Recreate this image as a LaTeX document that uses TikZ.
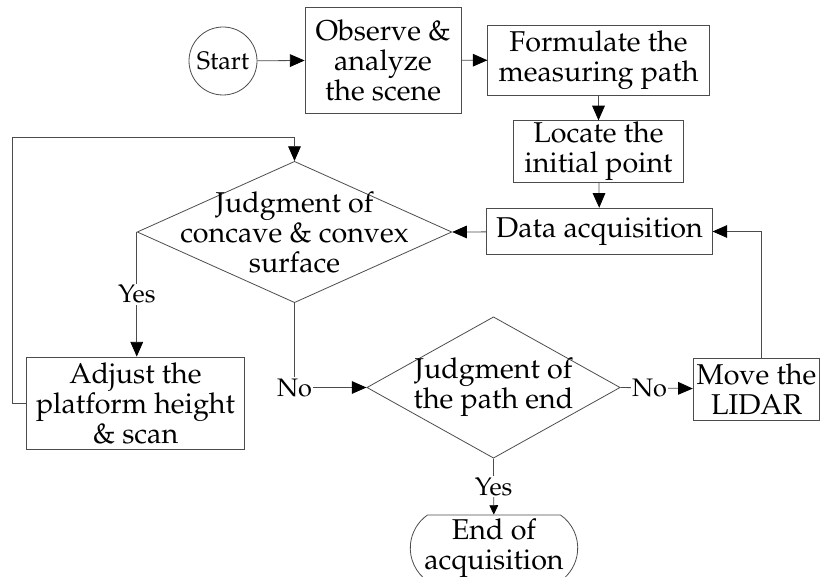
\documentclass[tikz,border=0pt]{standalone}
\usepackage[T1]{fontenc}
\usepackage{mathpazo}
\usepackage{tikz}
\usetikzlibrary{arrows.meta}
\usetikzlibrary{shapes,positioning}

\begin{document}
\begin{tikzpicture}[x=0.75pt, y=-0.75pt]
            \tikzstyle{every node} = [font=\fontsize{21.5}{22.5}\selectfont]
            \tikzstyle{small} = [font=\fontsize{19}{22}\selectfont]
            \tikzstyle{arrow} = [draw=black!70, line width=0.6pt, -{Triangle[length=11pt,width=9.5pt,color=black]}]
            \tikzstyle{smallarrow} = [draw=black!70, line width=0.6pt, -{Triangle[length=7pt,width=6.5pt,color=black]}]
            \tikzstyle{line} = [draw=black!70, line width=0.6pt]
            \tikzstyle{box} = [draw=black!70, line width=0.6pt, rectangle, align=center, inner sep=1pt]
            \tikzstyle{decision} = [draw=black!70, line width=0.6pt, diamond, inner sep=0pt]
            \tikzstyle{lbl} = [small, fill=white, inner sep=1pt]
            \useasboundingbox (0, 0) rectangle (821, 577);

            \node[draw=black!70, line width=0.6pt, circle, minimum size=51pt, inner sep=0pt, small] (start) at (223, 61) {Start};
            \node[box, minimum width=117pt, minimum height=79.5pt] (observe) at (383, 60) {Observe \&\\analyze\\the scene};
            \node[box, minimum width=166pt, minimum height=52pt] (formulate) at (598.5, 60.5) {Formulate the\\measuring path};
            \node[box, minimum width=127.5pt, minimum height=46pt] (locate) at (598.5, 151.5) {Locate the\\initial point};
            \node[box, minimum width=169pt, minimum height=35pt] (data) at (599.5, 231.5) {Data acquisition};
            \node[decision, minimum width=236pt, minimum height=106pt,
                  label={[align=center]center:Judgment of\\concave \& convex\\surface}] (judge1) at (294.5, 232) {};
            \node[box, minimum width=163pt, minimum height=69pt] (adjust) at (135.5, 403) {Adjust the\\platform height\\\& scan};
            \node[decision, minimum width=190pt, minimum height=106pt,
                  label={[align=center]center:Judgment of\\the path end}] (judge2) at (493.5, 387.5) {};
            \node[box, minimum width=95pt, minimum height=47pt] (move) at (756.5, 389.5) {Move the\\LIDAR};
            \node[draw=black!70, line width=0.6pt, rounded rectangle, rounded rectangle arc length=110,
                  minimum width=124.5pt, minimum height=49.5pt, align=center, inner sep=1pt] (finish) at (494, 548) {End of\\acquisition};
            \coordinate (loop) at (12, 137);

            \draw [arrow] (start) -- (observe);
            \draw [arrow] (observe) -- (formulate);
            \draw [arrow] (formulate) -- (locate);
            \draw [arrow] (locate) -- (data);
            \draw [arrow] (data) -- (judge1.east);

            \draw [arrow] (judge1.west) -- node[lbl] {Yes} (judge1.west |- adjust.north);
            \draw [line] (adjust.west) -| (loop);
            \draw [arrow] (loop) -| (judge1.north);

            \draw [arrow] (judge1.south) |- node[lbl] {No} (judge2.west);
            \draw [arrow] (judge2.east) -- node[lbl, pos=0.4] {No} (move);
            \draw [arrow] ([xshift=4pt]move.north) |- (data.east);
            \draw [smallarrow] (judge2.south) -- node[lbl] {Yes} (finish);
        \end{tikzpicture}
\end{document}
